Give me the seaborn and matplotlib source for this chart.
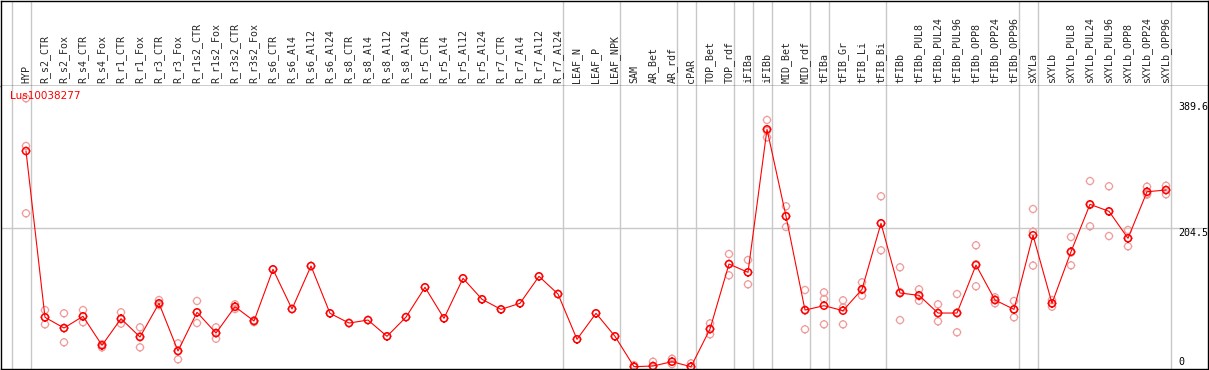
import pandas as pd
import seaborn as sns
import matplotlib.pyplot as plt
from matplotlib.path import Path

# Sample names shown in the header, one per column
categories = [
    "HYP", "R_s2_CTR", "R_s2_Fox", "R_s4_CTR", "R_s4_Fox", "R_r1_CTR", "R_r1_Fox",
    "R_r3_CTR", "R_r3_Fox", "R_r1s2_CTR", "R_r1s2_Fox", "R_r3s2_CTR", "R_r3s2_Fox",
    "R_s6_CTR", "R_s6_Al4", "R_s6_Al12", "R_s6_Al24", "R_s8_CTR", "R_s8_Al4",
    "R_s8_Al12", "R_s8_Al24", "R_r5_CTR", "R_r5_Al4", "R_r5_Al12", "R_r5_Al24",
    "R_r7_CTR", "R_r7_Al4", "R_r7_Al12", "R_r7_Al24", "LEAF_N", "LEAF_P", "LEAF_NPK",
    "SAM", "AR_Bet", "AR_rdf", "cPAR", "TOP_Bet", "TOP_rdf", "iFIBa", "iFIBb",
    "MID_Bet", "MID_rdf", "tFIBa", "tFIB_Gr", "tFIB_Li", "tFIB_Bi", "tFIBb",
    "tFIBb_PUL8", "tFIBb_PUL24", "tFIBb_PUL96", "tFIBb_OPP8", "tFIBb_OPP24",
    "tFIBb_OPP96", "sXYLa", "sXYLb", "sXYLb_PUL8", "sXYLb_PUL24", "sXYLb_PUL96",
    "sXYLb_OPP8", "sXYLb_OPP24", "sXYLb_OPP96",
]

# Mean expression per sample (dark red line)
means = [
    317.3, 73.0, 57.3, 74.5, 31.9, 71.0, 44.1, 93.6, 23.5, 80.4, 49.9, 88.6, 67.6,
    143.5, 85.2, 148.4, 78.9, 64.6, 69.0, 45.1, 73.3, 117.1, 71.5, 130.3, 99.5,
    84.7, 93.6, 133.2, 107.2, 40.7, 78.9, 45.1,
    0.5, 1.5, 7.8, 0.5, 55.8, 151.3, 139.1, 349.2, 221.4, 83.7,
    90.1, 82.8, 114.1, 211.1, 108.7, 105.3, 79.3, 79.3, 149.8, 98.4, 84.7,
    193.5, 93.6, 169.4, 239.0, 228.7, 189.1, 257.5, 260.0,
]

# Individual replicates (light circles)
replicates = [
    [394.7, 324.7, 225.8], [83.7, 62.7, 73.0], [78.9, 36.3, 57.0], [83.7, 65.7, 74.0],
    [28.9, 33.5, 33.0], [80.4, 63.7, 70.0], [58.3, 28.9, 45.0], [98.4, 91.0, 92.0],
    [34.8, 11.3, 24.0], [97.0, 64.6, 80.0], [58.3, 41.6, 50.0], [92.1, 85.2, 88.0],
    [66.0, 68.0, 68.5],
    [143.5], [85.2], [148.4], [78.9], [64.6], [69.0], [45.1], [73.3], [117.1],
    [71.5], [130.3], [99.5], [84.7], [93.6], [133.2], [107.2], [40.7], [78.9], [45.1],
    [2.9, 0.0, 0.5], [7.8, 0.5, 1.0], [12.2, 4.4, 8.0], [5.4, 0.0, 0.5],
    [64.1, 48.0, 55.5], [166.0, 134.7, 151.0], [157.2, 121.5, 139.0],
    [362.9, 337.4, 347.0], [236.1, 205.7, 222.0], [113.1, 55.4, 83.0],
    [109.7, 99.9, 62.7], [98.0, 87.5, 62.7], [124.4, 104.8, 113.0],
    [250.8, 171.4, 211.0], [146.5, 69.0, 110.0], [114.1, 97.4, 104.0],
    [92.1, 67.1, 79.0], [107.2, 51.0, 80.0], [178.8, 118.6, 151.0],
    [102.4, 93.6, 99.0], [97.0, 73.0, 84.0], [232.1, 198.8, 149.0],
    [98.4, 88.6, 93.0], [191.0, 149.4, 168.0], [273.2, 206.7, 238.0],
    [265.5, 192.4, 228.0], [201.3, 177.3, 189.0], [264.9, 253.1, 255.0],
    [266.3, 253.7, 260.0],
]

# Last column of each tissue group (separator drawn just after it)
group_ends = [-1, 0, 28, 31, 34, 35, 37, 38, 39, 41, 42, 45, 52, 53, 60]
y_labels = [389.6, 204.5, 0]
gene = "Lus10038277"

sns.set_style("white")
plt.rcParams['font.family'] = ['DejaVu Sans']

pos = list(range(len(categories)))
rep_df = pd.DataFrame(
    [(i, v) for i, vals in enumerate(replicates) for v in vals],
    columns=["pos", "value"],
)
mean_df = pd.DataFrame({"pos": pos, "value": means})

# circle with four tiny ticks
verts = [tuple(v) for v in Path.unit_circle().vertices]
codes = list(Path.unit_circle().codes)
for dx, dy in [(0, 1), (0, -1), (1, 0), (-1, 0)]:
    verts += [(dx, dy), (dx * 1.22, dy * 1.22)]
    codes += [Path.MOVETO, Path.LINETO]
tick_circle = Path(verts, codes)

W, H = 1209, 370
fig = plt.figure(figsize=(W / 100, H / 100), dpi=100)
ax_h = fig.add_axes([1 / W, (H - 86) / H, 1207 / W, 85.5 / H])
ax = fig.add_axes([1 / W, 1 / H, 1207 / W, 283 / H])

xlim = ((1 - 26) / 19, (1208 - 26) / 19)
for a in (ax, ax_h):
    a.set_xlim(*xlim)
    a.set_xticks([])
    a.set_yticks([])
    for s in a.spines.values():
        s.set_color("black")
        s.set_linewidth(1)
    for g in group_ends:
        a.axvline(g + 0.24, color="#c8c8c8", lw=1, zorder=0)
ax.spines["top"].set_visible(False)

# header labels
ax_h.set_ylim(0, 86)
for i, name in enumerate(categories):
    ax_h.text(i, 3, name, rotation=90, ha="center", va="bottom",
              fontsize=7.2, family="DejaVu Sans Mono")

ax.set_ylim(-2.9, 412.8)
ax.axhline(204.5, color="#c8c8c8", lw=1, zorder=0)

sns.scatterplot(data=rep_df, x="pos", y="value", marker=tick_circle, s=38,
                color="#f09a9a", facecolor="none", edgecolor="#f09a9a",
                linewidth=0.9, ax=ax, zorder=2)
sns.lineplot(data=mean_df, x="pos", y="value", color="red", lw=0.8, ax=ax, zorder=3)
sns.scatterplot(data=mean_df, x="pos", y="value", marker=tick_circle, s=38,
                color="red", facecolor="none", edgecolor="red",
                linewidth=1.1, ax=ax, zorder=4)
ax.set_xlabel("")
ax.set_ylabel("")
ax.set_xlim(*xlim)

for v in y_labels:
    ax.text((1178 - 26) / 19, v, f"{v:g}", ha="left",
            va="bottom" if v == 0 else "top",
            fontsize=7.2, family="DejaVu Sans Mono", color="black")

ax.text(9 / 1207, 1 - 5 / 283, gene, transform=ax.transAxes, ha="left", va="top",
        color="red", fontsize=7.5)

fig.savefig("out.png", dpi=100)
